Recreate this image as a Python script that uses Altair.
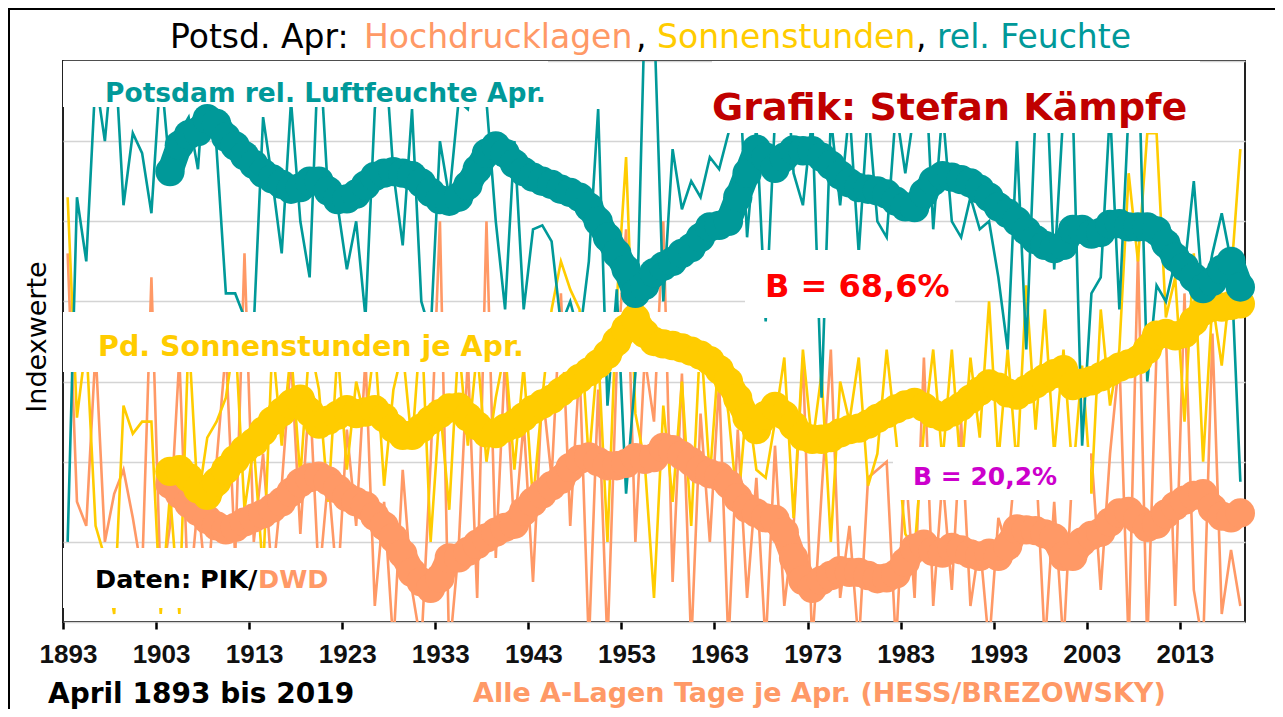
import altair as alt
import pandas as pd

# ---------------- data (index units) ----------------
years = list(range(1893, 2020))

feuchte = [1.0, 5.3, 4.5, 6.8, 6.0, 7.3, 5.2, 6.1, 5.85, 5.1,
           6.9, 5.6, 6.1, 6.3, 5.65, 7.3, 5.9, 4.1, 4.1, 3.8,
           3.7, 6.3, 5.5, 4.6, 6.5, 5.0, 4.3, 7.3, 5.3, 5.2,
           4.4, 5.0, 3.8, 6.4, 7.3, 5.6, 4.7, 6.4, 4.0, 3.6,
           6.0, 5.3, 6.5, 6.4, 7.3, 6.5, 5.0, 3.9, 6.0, 3.9,
           4.9, 4.95, 4.75, 3.7, 4.0, 3.55, 4.5, 6.4, 2.7, 4.15,
           1.6, 3.1, 7.6, 7.6, 4.0, 5.9, 5.15, 5.5, 5.3, 5.8,
           5.65, 6.1, 7.3, 4.8, 6.2, 3.75, 6.3, 7.3, 5.6, 5.2,
           6.3, 2.8, 6.3, 5.2, 6.4, 4.6, 6.4, 5.0, 4.8, 6.4,
           5.6, 6.4, 7.3, 4.9, 6.4, 5.0, 4.8, 5.3, 4.9, 5.0,
           4.3, 3.4, 6.0, 3.4, 6.4, 7.3, 4.4, 6.4, 6.4, 2.2,
           4.1, 4.3, 6.4, 3.9, 6.4, 7.3, 3.0, 4.2, 4.0, 4.5,
           4.4, 5.5, 4.0, 4.6, 5.1, 4.5, 1.75]

sonne = [5.3, 2.55, 3.5, 1.2, 0.8, 0.1, 2.7, 2.35, 2.5, 2.5,
         0.1, 1.6, 0.1, 3.6, 1.5, 2.3, 2.5, 2.8, 3.6, 1.4,
         2.2, 0.6, 3.5, 2.2, 3.4, 1.8, 3.5, 2.9, 1.5, 3.4,
         1.9, 3.0, 2.5, 3.5, 1.7, 2.9, 3.4, 2.2, 3.8, 1.0,
         2.7, 1.4, 3.5, 2.2, 3.4, 2.0, 2.8, 3.4, 1.9, 3.2,
         1.5, 2.8, 3.9, 4.5, 4.15, 3.9, 2.0, 3.4, 1.0, 4.0,
         5.8, 2.6, 2.0, 0.3, 2.7, 1.5, 3.0, 1.2, 3.6, 1.8,
         3.4, 2.6, 1.4, 2.8, 1.9, 1.8, 2.5, 3.3, 1.3, 3.4,
         2.2, 3.1, 1.0, 3.0, 2.5, 3.3, 1.7, 2.1, 3.4, 2.3,
         1.1, 0.9, 2.4, 3.4, 2.0, 3.4, 1.8, 3.3, 2.3, 4.0,
         2.0, 3.4, 1.9, 4.2, 2.4, 3.9, 2.1, 3.4, 1.8, 3.2,
         1.6, 3.9, 2.7, 3.4, 5.6, 4.5, 6.1, 6.1, 3.8, 4.3,
         2.5, 4.6, 2.0, 4.0, 3.2, 4.3, 5.9]

hoch = [4.6, 1.5, 1.2, 3.4, 1.0, 1.6, 1.9, 1.3, 0.6, 4.3,
        0.4, 1.2, 3.3, 0.2, 1.5, 0.3, 2.0, 3.4, 0.8, 4.6,
        1.0, 2.1, 0.5, 1.7, 3.3, 1.1, 2.9, 0.5, 1.8, 0.4,
        2.4, 1.2, 3.3, 0.2, 1.5, -0.3, 1.9, 0.4, -0.3, 2.0,
        5.0, -0.4, 0.9, 3.3, 0.3, 5.0, 0.8, 3.3, 1.1, 2.5,
        0.5, 2.9, 1.8, 4.1, 1.2, 3.2, -0.3, 2.9, -0.3, 3.2,
        4.9, 1.0, 3.3, 2.5, 5.0, 0.5, 3.1, -0.3, 2.6, 1.0,
        3.0, -0.3, 2.4, 0.3, 1.8, -0.3, 2.2, 0.2, 1.2, 3.3,
        -0.3, 1.6, 3.4, 0.3, 1.2, -0.3, 1.8, 1.9, 2.0, -0.3,
        2.0, 0.3, 3.3, 0.2, 1.8, 0.4, 2.5, 0.2, 1.0, -0.3,
        1.3, 0.9, 2.2, 1.8, 2.1, -0.3, 1.5, -0.3, 2.0, 1.8,
        2.1, 0.4, 2.1, 3.3, -0.3, 4.6, -0.3, 3.4, 3.6, 0.2,
        4.1, 0.4, -0.3, 3.6, 0.1, 0.9, 0.2]

ma_years = list(range(1904, 2020))

feuchte_ma = [5.62, 5.95, 6.08, 6.12, 6.28, 6.22, 6.05, 5.94, 5.82, 5.71,
              5.6, 5.53, 5.46, 5.4, 5.42, 5.5, 5.5, 5.38, 5.27, 5.28,
              5.34, 5.45, 5.56, 5.6, 5.62, 5.6, 5.57, 5.48, 5.36, 5.27,
              5.25, 5.3, 5.45, 5.65, 5.85, 5.94, 5.85, 5.72, 5.62, 5.55,
              5.5, 5.46, 5.4, 5.36, 5.3, 5.18, 5.0, 4.8, 4.6, 4.4,
              4.1, 4.2, 4.36, 4.44, 4.5, 4.6, 4.67, 4.8, 4.93, 4.95,
              5.0, 5.3, 5.6, 5.9, 5.8, 5.66, 5.8, 5.89, 5.88, 5.88,
              5.8, 5.7, 5.58, 5.48, 5.42, 5.4, 5.38, 5.34, 5.25, 5.18,
              5.17, 5.35, 5.5, 5.57, 5.55, 5.52, 5.48, 5.4, 5.3, 5.18,
              5.1, 5.0, 4.88, 4.77, 4.7, 4.66, 4.7, 4.9, 4.9, 4.84,
              4.86, 4.96, 4.97, 4.93, 4.93, 4.93, 4.88, 4.72, 4.55, 4.43,
              4.3, 4.16, 4.25, 4.4, 4.5, 4.18]

sonne_ma = [1.88, 1.9, 1.8, 1.66, 1.58, 1.75, 1.9, 2.03, 2.15, 2.24,
            2.38, 2.51, 2.62, 2.72, 2.78, 2.62, 2.47, 2.52, 2.58, 2.65,
            2.6, 2.62, 2.65, 2.55, 2.42, 2.33, 2.33, 2.42, 2.52, 2.6,
            2.67, 2.68, 2.56, 2.45, 2.36, 2.35, 2.42, 2.47, 2.56, 2.65,
            2.72, 2.78, 2.87, 2.95, 3.04, 3.12, 3.22, 3.34, 3.5, 3.66,
            3.79, 3.6, 3.5, 3.47, 3.45, 3.42, 3.38, 3.33, 3.26, 3.15,
            3.0, 2.79, 2.55, 2.4, 2.58, 2.69, 2.58, 2.45, 2.32, 2.28,
            2.28, 2.3, 2.36, 2.4, 2.42, 2.47, 2.54, 2.6, 2.66, 2.71,
            2.74, 2.68, 2.6, 2.56, 2.62, 2.69, 2.78, 2.88, 2.97, 2.93,
            2.86, 2.83, 2.9, 2.97, 3.04, 3.1, 3.15, 2.95, 2.98, 3.01,
            3.06, 3.12, 3.18, 3.22, 3.27, 3.4, 3.58, 3.6, 3.57, 3.6,
            3.75, 3.88, 3.93, 3.93, 3.95, 3.97]

hoch_ma = [1.72, 1.6, 1.48, 1.38, 1.28, 1.2, 1.15, 1.18, 1.25, 1.3,
           1.35, 1.42, 1.5, 1.62, 1.74, 1.8, 1.82, 1.76, 1.66, 1.56,
           1.5, 1.45, 1.32, 1.2, 1.05, 0.85, 0.62, 0.5, 0.42, 0.55,
           0.8, 0.8, 0.88, 0.97, 1.05, 1.12, 1.18, 1.22, 1.38, 1.5,
           1.6, 1.7, 1.78, 1.93, 2.03, 2.06, 2.0, 1.95, 1.95, 1.98,
           2.05, 2.03, 2.05, 2.18, 2.15, 2.08, 2.0, 1.9, 1.85, 1.82,
           1.72, 1.55, 1.42, 1.36, 1.3, 1.28, 1.12, 0.8, 0.52, 0.42,
           0.52, 0.58, 0.64, 0.62, 0.62, 0.58, 0.54, 0.55, 0.6, 0.75,
           0.92, 0.97, 0.88, 0.86, 0.93, 0.9, 0.85, 0.82, 0.86, 0.82,
           0.95, 1.16, 1.15, 1.14, 1.1, 1.05, 0.82, 0.82, 1.0, 1.08,
           1.12, 1.25, 1.36, 1.38, 1.28, 1.18, 1.22, 1.35, 1.45, 1.52,
           1.58, 1.6, 1.42, 1.32, 1.3, 1.36]

tick_years = list(range(1893, 2014, 10))

TEAL = "#009999"
YELLOW = "#FFCC00"
ORANGE = "#FF9966"
FONT = "DejaVu Sans"

# plot area origin on the page
OX, OY = 63, 61
W, H = 1182, 561

x_enc = alt.X(
    "xpos:Q",
    scale=alt.Scale(domain=[1893, 2020], nice=False, zero=False),
    axis=alt.Axis(values=tick_years, format="d", title=None, grid=False,
                  ticks=True, tickColor="black", tickWidth=2.5, tickSize=7,
                  domain=False, labelFont="Liberation Sans",
                  labelFontWeight="bold", labelFontSize=26,
                  labelColor="#111111", labelPadding=12, labelOffset=5,
                  labelFlush=False, labelOverlap=False, labelBound=False),
)
y_enc = alt.Y(
    "value:Q",
    scale=alt.Scale(domain=[0, 7], nice=False, zero=False),
    axis=alt.Axis(values=list(range(0, 8)), labels=False, ticks=False,
                  domain=False, grid=True, gridColor="#d4d4d4",
                  gridWidth=1.5, title=None),
)


def thin_line(vals, color):
    df = pd.DataFrame({"year": years, "value": vals})
    return (alt.Chart(df)
            .transform_calculate(xpos="datum.year + 0.5")
            .mark_line(color=color, strokeWidth=2.6, clip=True)
            .encode(x=x_enc, y=y_enc))


def thick_line(vals, color):
    df = pd.DataFrame({"year": ma_years, "value": vals})
    base = alt.Chart(df).transform_calculate(xpos="datum.year + 0.5")
    line = base.mark_line(color=color, strokeWidth=26, strokeCap="round",
                          strokeJoin="round").encode(x=x_enc, y=y_enc)
    dots = base.mark_circle(color=color, size=860, opacity=1).encode(x=x_enc, y=y_enc)
    return line + dots


one = pd.DataFrame({"k": [0]})


def box(x1, y1, x2, y2):
    return alt.Chart(one).mark_rect(color="white").encode(
        x=alt.value(x1 - OX), x2=alt.value(x2 - OX),
        y=alt.value(y1 - OY), y2=alt.value(y2 - OY))


def txt(s, x, y, color, size, weight="bold", align="left", angle=0,
        baseline="alphabetic"):
    return alt.Chart(one).mark_text(
        text=s, color=color, fontSize=size, fontWeight=weight, font=FONT,
        align=align, baseline=baseline, angle=angle,
    ).encode(x=alt.value(x - OX), y=alt.value(y - OY))


def rule(x1, y1, x2, y2, color="black", w=2):
    return alt.Chart(one).mark_rule(color=color, strokeWidth=w).encode(
        x=alt.value(x1 - OX), x2=alt.value(x2 - OX),
        y=alt.value(y1 - OY), y2=alt.value(y2 - OY))


layers = [
    thin_line(hoch, ORANGE),
    thin_line(sonne, YELLOW),
    thin_line(feuchte, TEAL),
    # white label boxes that hide the thin lines
    box(OX, OY, 548, 107),
    box(712, OY, 1200, 133),
    box(OX, 312, 745, 372),
    box(745, 250, 955, 318),
    box(893, 447, 1090, 500),
    box(OX, 548, 345, 608),
    thick_line(hoch_ma, ORANGE),
    thick_line(sonne_ma, YELLOW),
    thick_line(feuchte_ma, TEAL),
    # outer frame
    rule(8, 9, 1275, 9),
    rule(9, 8, 9, 709),
    # title
    txt("Potsd. Apr:", 170, 48, "black", 33, weight="normal"),
    txt("Hochdrucklagen", 364, 48, ORANGE, 33, weight="normal"),
    txt(",", 636, 48, "black", 33, weight="normal"),
    txt("Sonnenstunden", 657, 48, YELLOW, 33, weight="normal"),
    txt(",", 916, 48, "black", 33, weight="normal"),
    txt("rel. Feuchte", 937, 48, TEAL, 33, weight="normal"),
    # in-plot labels
    txt("Potsdam rel. Luftfeuchte Apr.", 105, 102, TEAL, 26.5),
    txt("Grafik: Stefan Kämpfe", 712, 120, "#C00000", 38),
    txt("B = 68,6%", 765, 297, "#FF0000", 32),
    txt("Pd. Sonnenstunden je Apr.", 98, 356, YELLOW, 28.5),
    txt("B = 20,2%", 913, 485, "#CC00CC", 25),
    txt("Daten: PIK/", 95, 588, "black", 25.5),
    txt("DWD", 258, 588, ORANGE, 25.5),
    # axis texts
    txt("Indexwerte", 38, 337, "black", 27, weight="normal", align="center",
        angle=270, baseline="middle"),
    txt("April 1893 bis 2019", 48, 703, "black", 28),
    txt("Alle A-Lagen Tage je Apr. (HESS/BREZOWSKY)", 473, 702, ORANGE, 27),
]

chart = (
    alt.layer(*layers)
    .properties(
        width=W, height=H,
        autosize=alt.AutoSizeParams(type="none"),
        padding={"left": 55, "top": 53, "right": 30, "bottom": 87},
        background="white",
    )
    .configure_view(stroke="#222222", strokeWidth=2)
)

chart.save("out.html", embed_options={"renderer": "svg", "actions": False})
